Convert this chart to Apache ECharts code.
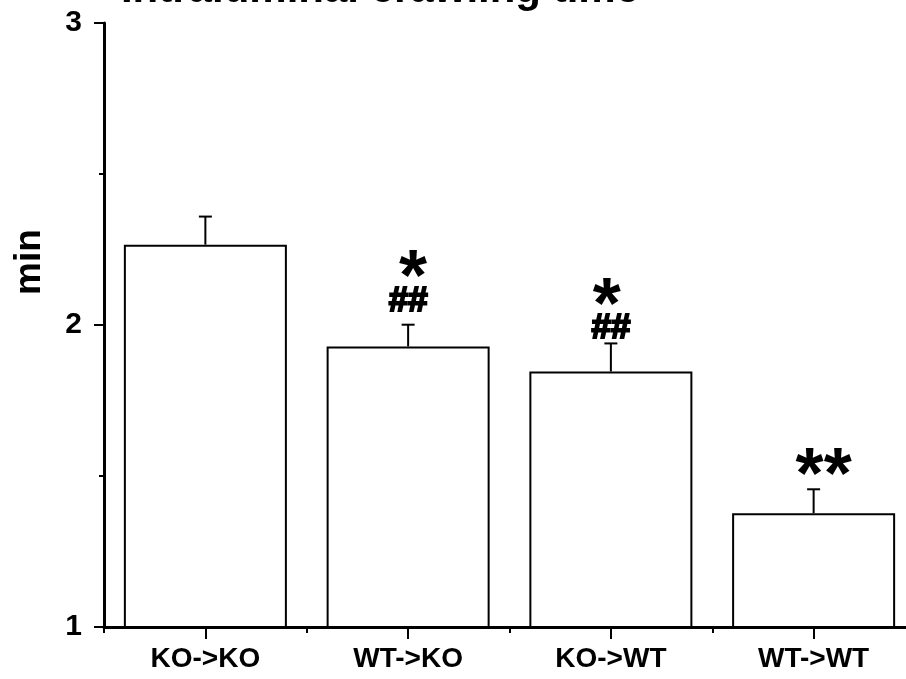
<!DOCTYPE html>
<html>
<head>
<meta charset="utf-8">
<script src="https://cdn.jsdelivr.net/npm/echarts@6/dist/echarts.min.js"></script>
<style>
  html, body { margin: 0; padding: 0; background: #fff; }
  #chart { width: 906px; height: 679px; }
</style>
</head>
<body>
<div id="chart"></div>
<script>
// Group means (min) with their upper error (SEM)
const categories = ['KO->KO', 'WT->KO', 'KO->WT', 'WT->WT'];
const means = [2.266, 1.929, 1.846, 1.377];
const errors = [0.093, 0.072, 0.093, 0.079];

// Significance marks above the bars and the levels they sit at
const starMarks = ['', '*', '*', '**'];
const starLevels = [null, 2.150, 2.055, 1.493];
const hashMarks = ['', '##', '##', ''];
const hashLevels = [null, 2.078, 1.988, null];

const yMin = 1;
const yMax = 3;
const yStep = 1;

const FONT = '"Liberation Sans", Arial, Helvetica, sans-serif';

const chart = echarts.init(document.getElementById('chart'), null, { renderer: 'canvas' });

const starData = [];
const hashData = [];
categories.forEach(function (c, i) {
  if (starMarks[i]) starData.push({ value: [i, starLevels[i]], mark: starMarks[i] });
  if (hashMarks[i]) hashData.push({ value: [i, hashLevels[i]], mark: hashMarks[i] });
});

const starOffsets = [0, 5, -4, 10];

chart.setOption({
  backgroundColor: '#ffffff',
  animation: false,
  grid: { left: 104, right: -9, top: 23, bottom: 52, containLabel: false, outerBoundsMode: 'none' },
  graphic: [
    {
      type: 'text',
      x: 380, y: -10,
      style: {
        text: 'Intraluminal crawling time',
        font: 'bold 42px ' + FONT,
        fill: '#000',
        textAlign: 'center',
        textVerticalAlign: 'middle'
      }
    },
    {
      type: 'text',
      x: 30, y: 262,
      rotation: Math.PI / 2,
      style: {
        text: 'min',
        font: 'bold 37px ' + FONT,
        fill: '#000',
        textAlign: 'center',
        textVerticalAlign: 'middle'
      }
    }
  ],
  xAxis: [
    {
      type: 'category',
      data: categories,
      boundaryGap: true,
      axisLine: { show: true, lineStyle: { color: '#000', width: 3 } },
      axisTick: { show: true, alignWithLabel: true, length: 12, lineStyle: { color: '#000', width: 2 } },
      axisLabel: { color: '#000', fontFamily: FONT, fontWeight: 'bold', fontSize: 28, margin: 18, interval: 0 },
      splitLine: { show: false }
    },
    {
      type: 'category',
      data: categories,
      boundaryGap: true,
      position: 'bottom',
      axisLine: { show: false },
      axisTick: { show: true, alignWithLabel: false, length: 6, interval: 0, lineStyle: { color: '#000', width: 2 } },
      axisLabel: { show: false },
      splitLine: { show: false }
    }
  ],
  yAxis: {
    type: 'value',
    min: yMin,
    max: yMax,
    interval: yStep,
    axisLine: { show: true, lineStyle: { color: '#000', width: 3 } },
    axisTick: { show: true, inside: false, length: 10, lineStyle: { color: '#000', width: 2 } },
    minorTick: { show: true, splitNumber: 2, length: 5, lineStyle: { color: '#000', width: 2 } },
    axisLabel: { color: '#000', fontFamily: FONT, fontWeight: 'bold', fontSize: 30, margin: 22 },
    splitLine: { show: false },
    minorSplitLine: { show: false }
  },
  series: [
    {
      type: 'bar',
      data: means,
      barWidth: '80.4%',
      clip: true,
      itemStyle: { color: '#ffffff', borderColor: '#000', borderWidth: 2 },
      z: 2
    },
    {
      type: 'custom',
      data: means.map(function (m, i) { return [i, m, m + errors[i]]; }),
      z: 3,
      renderItem: function (params, api) {
        const base = api.coord([api.value(0), api.value(1)]);
        const top = api.coord([api.value(0), api.value(2)]);
        const half = 6.5;
        return {
          type: 'group',
          children: [
            { type: 'line', shape: { x1: base[0], y1: base[1], x2: top[0], y2: top[1] },
              style: { stroke: '#000', lineWidth: 2 } },
            { type: 'line', shape: { x1: top[0] - half, y1: top[1], x2: top[0] + half, y2: top[1] },
              style: { stroke: '#000', lineWidth: 2 } }
          ]
        };
      }
    },
    {
      type: 'scatter',
      data: starData,
      symbolSize: 0,
      silent: true,
      z: 4,
      itemStyle: { opacity: 1 },
      label: {
        show: true,
        position: 'inside',
        color: '#000',
        opacity: 1,
        fontFamily: FONT,
        fontWeight: 'bold',
        fontSize: 72,
        formatter: function (p) { return p.data.mark; }
      },
      labelLayout: function (p) {
        return { dx: starOffsets[starData[p.dataIndex].value[0]] };
      }
    },
    {
      type: 'scatter',
      data: hashData,
      symbolSize: 0,
      silent: true,
      z: 4,
      itemStyle: { opacity: 1 },
      label: {
        show: true,
        position: 'inside',
        color: '#000',
        opacity: 1,
        fontFamily: FONT,
        fontWeight: 'bold',
        fontSize: 35,
        textBorderColor: '#000',
        textBorderWidth: 2,
        formatter: function (p) { return p.data.mark; }
      }
    }
  ]
});
</script>
</body>
</html>
